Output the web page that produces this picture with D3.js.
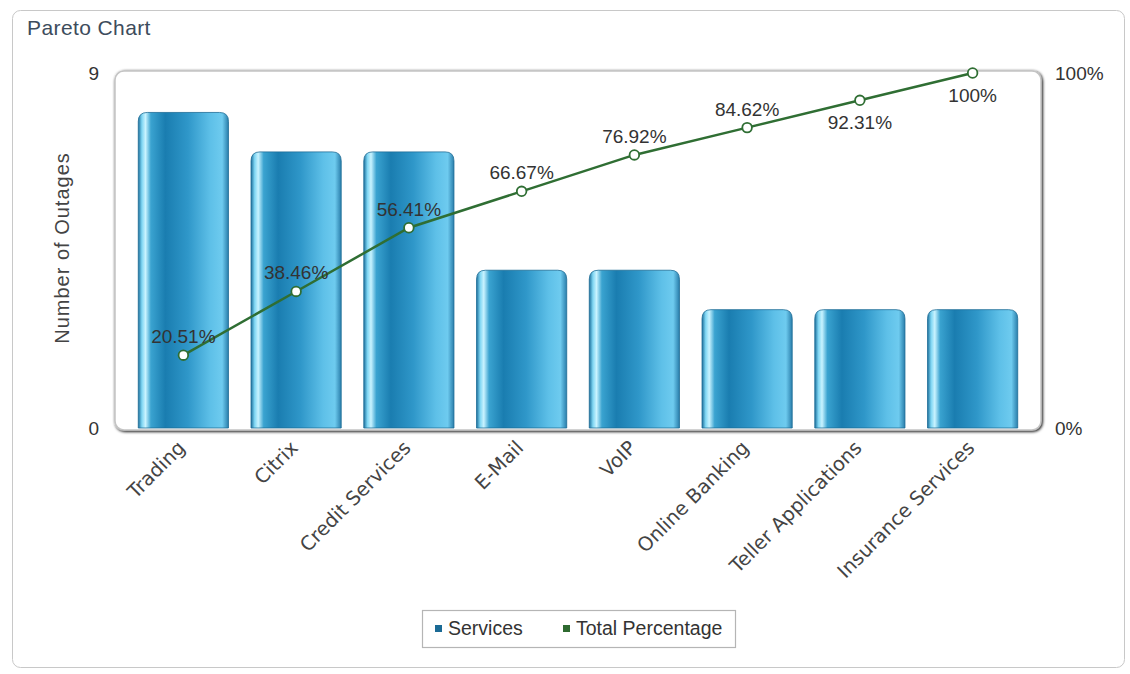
<!DOCTYPE html>
<html>
<head>
<title>Pareto Chart</title>
<style>
  body { margin: 0; background: #fff; font-family: "Liberation Sans", Arial, sans-serif; }
  svg text { fill: #333; }
</style>
<script src="https://cdnjs.cloudflare.com/ajax/libs/d3/7.8.5/d3.min.js"></script>
</head>
<body>
<svg id="chart" width="1130" height="674"></svg>
<script>
// data
const categories = ["Trading", "Citrix", "Credit Services", "E-Mail", "VoIP", "Online Banking", "Teller Applications", "Insurance Services"];
const outages = [8, 7, 7, 4, 4, 3, 3, 3];
const cumPercent = [20.51, 38.46, 56.41, 66.67, 76.92, 84.62, 92.31, 100];
const labelBelow = [false, false, false, false, false, false, true, true];

const svg = d3.select("#chart");
const defs = svg.append("defs");

// outer panel
svg.append("rect")
  .attr("x", 12.5).attr("y", 10.5).attr("width", 1112).attr("height", 657)
  .attr("rx", 8).attr("fill", "#fff").attr("stroke", "#c8c8c8");

svg.append("text")
  .attr("x", 27).attr("y", 35)
  .style("font-size", "21px").style("letter-spacing", "0.4px").style("fill", "#3d4c5c")
  .text("Pareto Chart");

const plotTop = 73, plotBottom = 428;

const x = d3.scaleBand().domain(categories).range([127, 1029]).paddingInner(0.2).paddingOuter(0.1);
const y = d3.scaleLinear().domain([0, 9]).range([plotBottom, plotTop]);
const yp = d3.scaleLinear().domain([0, 100]).range([plotBottom, plotTop]);

// plot frame with soft shadow
const shadow = defs.append("filter").attr("id", "shadow").attr("x", "-5%").attr("y", "-5%").attr("width", "110%").attr("height", "110%");
shadow.append("feGaussianBlur").attr("in", "SourceAlpha").attr("stdDeviation", 1.5);
shadow.append("feOffset").attr("dx", 1).attr("dy", 1).attr("result", "b");
const merge = shadow.append("feMerge");
merge.append("feMergeNode").attr("in", "b");
merge.append("feMergeNode").attr("in", "SourceGraphic");

svg.append("rect")
  .attr("x", 115).attr("y", 71).attr("width", 926).attr("height", 359)
  .attr("rx", 9).attr("fill", "#fff").attr("stroke", "#c4c4c4").attr("stroke-width", 1.5)
  .attr("filter", "url(#shadow)");

// bar gradient
const grad = defs.append("linearGradient").attr("id", "barGrad").attr("x1", "0%").attr("x2", "100%").attr("y1", "0%").attr("y2", "0%");
[["0%", "#1c6f9c"], ["4%", "#7fd6f3"], ["8%", "#c9f3ff"], ["14%", "#3aa3d0"], ["30%", "#1a7db0"], ["55%", "#2f97c9"], ["80%", "#5ec0e8"], ["93%", "#6ecbef"], ["100%", "#2a7eab"]]
  .forEach(s => grad.append("stop").attr("offset", s[0]).attr("stop-color", s[1]));

function barPath(x0, w, y0, y1, r) {
  return `M${x0},${y1}V${y0 + r}Q${x0},${y0} ${x0 + r},${y0}H${x0 + w - r}Q${x0 + w},${y0} ${x0 + w},${y0 + r}V${y1}Z`;
}

svg.append("g").selectAll("path")
  .data(categories)
  .join("path")
  .attr("d", (d, i) => barPath(x(d), x.bandwidth(), y(outages[i]), y(0), 9))
  .attr("fill", "url(#barGrad)")
  .attr("stroke", "#1d6c96").attr("stroke-width", 0.8);

// left axis
const yAxis = svg.append("g").attr("transform", "translate(99,0)")
  .call(d3.axisLeft(y).tickValues([0, 9]).tickSize(0).tickPadding(0));
yAxis.select(".domain").remove();
yAxis.selectAll("text").style("font-size", "19px").style("fill", "#333").attr("dy", "0.34em");

// right axis
const ypAxis = svg.append("g").attr("transform", "translate(1055,0)")
  .call(d3.axisRight(yp).tickValues([0, 100]).tickSize(0).tickPadding(0).tickFormat(d => d + "%"));
ypAxis.select(".domain").remove();
ypAxis.selectAll("text").style("font-size", "19px").style("fill", "#333").attr("dy", "0.32em");

svg.append("text")
  .attr("transform", "translate(69,248) rotate(-90)")
  .attr("text-anchor", "middle")
  .style("font-size", "20px").style("letter-spacing", "1px").style("fill", "#444")
  .text("Number of Outages");

// x labels
const xAxis = svg.append("g").attr("transform", `translate(0,${plotBottom})`)
  .call(d3.axisBottom(x).tickSize(0).tickPadding(0));
xAxis.select(".domain").remove();
xAxis.selectAll("text")
  .attr("text-anchor", "end")
  .attr("transform", "translate(3,21) rotate(-45)")
  .attr("dy", 0).attr("y", 0)
  .style("font-family", "'DejaVu Sans', Verdana, sans-serif")
  .style("font-size", "19.5px").style("fill", "#444");

// cumulative line
const cx = d => x(d) + x.bandwidth() / 2;
const line = d3.line().x((d, i) => cx(categories[i])).y(d => yp(d));
svg.append("path")
  .datum(cumPercent)
  .attr("d", line)
  .attr("fill", "none").attr("stroke", "#2f6e33").attr("stroke-width", 2.5);

svg.append("g").selectAll("circle")
  .data(cumPercent)
  .join("circle")
  .attr("cx", (d, i) => cx(categories[i]))
  .attr("cy", d => yp(d))
  .attr("r", 4.8)
  .attr("fill", "#fff").attr("stroke", "#2f6e33").attr("stroke-width", 1.8);

svg.append("g").selectAll("text")
  .data(cumPercent)
  .join("text")
  .attr("x", (d, i) => cx(categories[i]))
  .attr("y", (d, i) => yp(d) + (labelBelow[i] ? 29 : -12))
  .attr("text-anchor", "middle")
  .style("font-size", "19px").style("fill", "#333")
  .text(d => d + "%");

// legend
const legend = svg.append("g").attr("transform", "translate(422,610)");
legend.append("rect").attr("x", 0.5).attr("y", 0.5).attr("width", 313).attr("height", 37)
  .attr("fill", "#fff").attr("stroke", "#b5b5b5").attr("stroke-width", 1.2);
const items = [["Services", "#1b6a95", 13], ["Total Percentage", "#2e6a30", 141]];
items.forEach(([name, color, lx]) => {
  legend.append("rect").attr("x", lx).attr("y", 15).attr("width", 7).attr("height", 7).attr("fill", color);
  legend.append("text").attr("x", lx + 13).attr("y", 25).style("font-size", "19.5px").style("fill", "#333").text(name);
});
</script>
</body>
</html>
